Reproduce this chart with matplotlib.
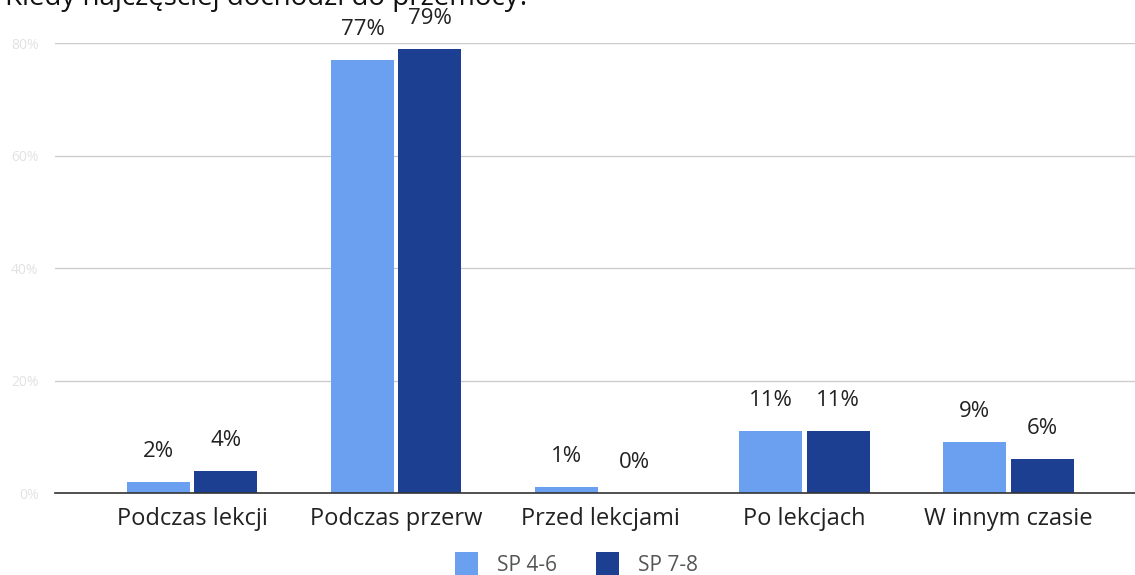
import matplotlib.pyplot as plt
import numpy as np

plt.rcParams['font.family'] = ['Open Sans', 'DejaVu Sans']

categories = ['Podczas lekcji', 'Podczas przerw', 'Przed lekcjami', 'Po lekcjach', 'W innym czasie']
sp_4_6 = [2, 77, 1, 11, 9]
sp_7_8 = [4, 79, 0, 11, 6]
series_names = ['SP 4-6', 'SP 7-8']
y_ticks = [0, 20, 40, 60, 80]

light_blue = '#6b9ff0'
dark_blue = '#1d3f91'

fig = plt.figure(figsize=(11.35, 5.75), dpi=100)
ax = fig.add_axes([0.0485, 0.1426, 0.9515, 0.7826])

x = np.arange(len(categories))
w = 0.309
off = 0.165
b1 = ax.bar(x - off, sp_4_6, w, color=light_blue, label=series_names[0], zorder=3)
b2 = ax.bar(x + off, sp_7_8, w, color=dark_blue, label=series_names[1], zorder=3)

for bars, vals in ((b1, sp_4_6), (b2, sp_7_8)):
    for rect, v in zip(bars, vals):
        ax.annotate('{}%'.format(v), (rect.get_x() + rect.get_width() / 2, v),
                    xytext=(0, 18), textcoords='offset points',
                    ha='center', va='baseline', fontsize=16, color='#222222',
                    annotation_clip=False)

ax.set_xlim(-0.672, 4.62)
ax.set_ylim(0, 80)
ax.set_yticks(y_ticks)
ax.set_yticklabels(['{}%'.format(t) for t in y_ticks], color='#e2e2e2', fontsize=10)
ax.set_xticks(x)
ax.set_xticklabels(categories, fontsize=17, color='#222222')
ax.tick_params(axis='both', length=0)
ax.tick_params(axis='x', pad=10)
ax.tick_params(axis='y', pad=12)
ax.grid(axis='y', color='#cccccc', linewidth=1, zorder=0)
for s in ['top', 'right', 'left']:
    ax.spines[s].set_visible(False)
ax.spines['bottom'].set_color('#333333')
ax.spines['bottom'].set_linewidth(1.2)
ax.spines['bottom'].set_zorder(4)

# tytuł wychodzi poza górną krawędź
fig.text(0.004, 1 - 5 / 575, 'Kiedy najczęściej dochodzi do przemocy?',
         fontsize=20, color='#111111', va='baseline', ha='left')

fig.legend(loc='lower center', bbox_to_anchor=(0.508, -0.035), ncol=2, frameon=False,
           fontsize=15, labelcolor='#555555', handlelength=1.1, handleheight=1.4,
           handletextpad=0.9, columnspacing=1.9)

fig.savefig('out.png', dpi=100)
